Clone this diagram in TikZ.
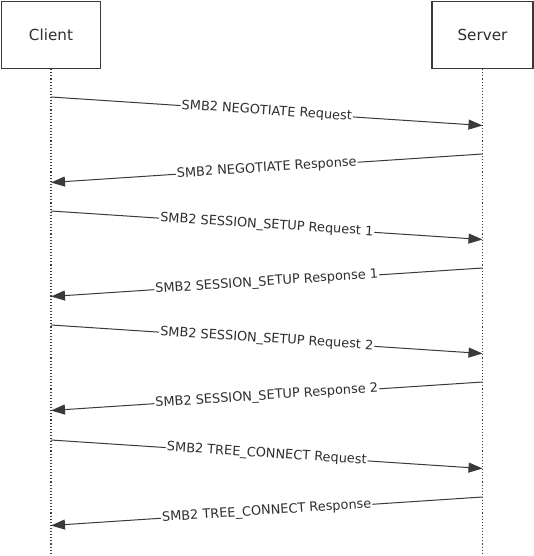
\documentclass[tikz,border=0pt]{standalone}
\usepackage{fontspec}
\setmainfont{DejaVu Sans}
\usetikzlibrary{arrows.meta}
\definecolor{linegray}{HTML}{3A3A3A}
\definecolor{txtgray}{HTML}{2E2E2E}
\begin{document}
\begin{tikzpicture}[x=1pt,y=-1pt,
  actor/.style={draw=linegray,line width=1.3pt,fill=white,inner sep=0pt,
    font=\fontsize{15.2}{18}\selectfont,text=txtgray},
  lifeline/.style={draw=linegray,line width=1.1pt,dotted},
  msg/.style={draw=linegray,line width=1pt,-{Triangle[length=14pt,width=10pt]}},
  lbl/.style={sloped,fill=white,inner sep=1pt,midway,font=\fontsize{12.9}{15}\selectfont,text=txtgray}]
\useasboundingbox (0,0) rectangle (534,556);
\node[actor,minimum width=99pt,minimum height=67pt] (client) at (51,35) {Client};
\node[actor,minimum width=101pt,minimum height=67pt] (server) at (482.5,35) {Server};
\coordinate (cend) at (51,556);
\coordinate (send) at (482.5,556);
\draw[lifeline] (client.south) -- (cend);
\draw[lifeline] (server.south) -- (send);
% message end points
\foreach \i/\y in {1/97,2/154,3/211,4/268,5/325,6/382,7/440,8/497}{
  \coordinate (c\i) at (51,\y);
  \coordinate (s\i) at (482.5,\y);
  \coordinate (ca\i) at (51,\y+28.5);
  \coordinate (sa\i) at (482.5,\y+28.5);
}
\draw[msg] (c1) -- node[lbl]{SMB2 NEGOTIATE Request} (sa1);
\draw[msg] (s2) -- node[lbl]{SMB2 NEGOTIATE Response} (ca2);
\draw[msg] (c3) -- node[lbl]{SMB2 SESSION\_SETUP Request 1} (sa3);
\draw[msg] (s4) -- node[lbl]{SMB2 SESSION\_SETUP Response 1} (ca4);
\draw[msg] (c5) -- node[lbl]{SMB2 SESSION\_SETUP Request 2} (sa5);
\draw[msg] (s6) -- node[lbl]{SMB2 SESSION\_SETUP Response 2} (ca6);
\draw[msg] (c7) -- node[lbl]{SMB2 TREE\_CONNECT Request} (sa7);
\draw[msg] (s8) -- node[lbl]{SMB2 TREE\_CONNECT Response} (ca8);
\end{tikzpicture}
\end{document}
